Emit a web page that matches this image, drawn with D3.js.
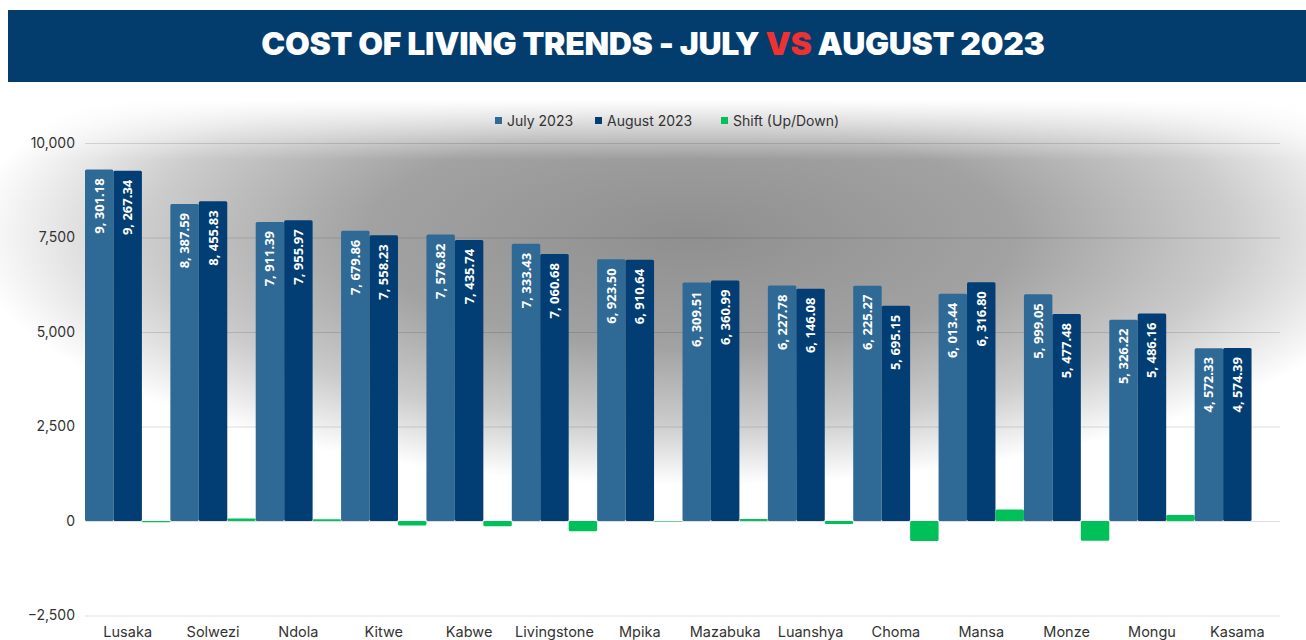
<!DOCTYPE html>
<html>
<head>
<meta charset="utf-8">
<script src="https://cdn.jsdelivr.net/npm/d3@7"></script>
<style>
  body { margin: 0; background: #fff; }
  svg { display: block; font-family: "Inter", "Open Sans", sans-serif; }
</style>
</head>
<body>
<div id="chart"></div>
<script>
var cities = ["Lusaka", "Solwezi", "Ndola", "Kitwe", "Kabwe", "Livingstone", "Mpika",
              "Mazabuka", "Luanshya", "Choma", "Mansa", "Monze", "Mongu", "Kasama"];
var july_2023 = [9301.18, 8387.59, 7911.39, 7679.86, 7576.82, 7333.43, 6923.50,
                 6309.51, 6227.78, 6225.27, 6013.44, 5999.05, 5326.22, 4572.33];
var august_2023 = [9267.34, 8455.83, 7955.97, 7558.23, 7435.74, 7060.68, 6910.64,
                   6360.99, 6146.08, 5695.15, 6316.80, 5477.48, 5486.16, 4574.39];
var shift = [-33.84, 68.24, 44.58, -121.63, -141.08, -272.75, -12.86,
             51.48, -81.70, -530.12, 303.36, -521.57, 159.94, 2.06];
var y_ticks = [-2500, 0, 2500, 5000, 7500, 10000];
var series_names = ["July 2023", "August 2023", "Shift (Up/Down)"];
var series_colors = ["#2f6a96", "#023e73", "#00c159"];

var W = 1306, H = 640;
var margin = {top: 143, right: 26, bottom: 24.5, left: 85};

var svg = d3.select("#chart").append("svg")
            .attr("width", W)
            .attr("height", H);

// background glow behind the plot
var defs = svg.append("defs");
var grad = defs.append("radialGradient")
               .attr("id", "glow")
               .attr("gradientUnits", "userSpaceOnUse")
               .attr("cx", 0).attr("cy", 0).attr("r", 1)
               .attr("gradientTransform", "translate(690,235) scale(720,250)");
grad.append("stop").attr("offset", 0).attr("stop-color", "#8f8f8f");
grad.append("stop").attr("offset", 0.45).attr("stop-color", "#a2a2a2");
grad.append("stop").attr("offset", 0.75).attr("stop-color", "#cbcbcb");
grad.append("stop").attr("offset", 1).attr("stop-color", "#ffffff");

var fade = defs.append("linearGradient")
               .attr("id", "fade")
               .attr("gradientUnits", "userSpaceOnUse")
               .attr("x1", 0).attr("y1", 100).attr("x2", 0).attr("y2", 160);
fade.append("stop").attr("offset", 0).attr("stop-color", "#fff").attr("stop-opacity", 1);
fade.append("stop").attr("offset", 1).attr("stop-color", "#fff").attr("stop-opacity", 0);

svg.append("rect")
   .attr("x", 0).attr("y", 82).attr("width", W).attr("height", H - 82)
   .attr("fill", "url(#glow)");
svg.append("rect")
   .attr("x", 0).attr("y", 82).attr("width", W).attr("height", 80)
   .attr("fill", "url(#fade)");

// header band
svg.append("rect")
   .attr("x", 8).attr("y", 10).attr("width", W - 8).attr("height", 72)
   .attr("fill", "#033d6e");

var title = svg.append("text")
               .attr("x", 653).attr("y", 55)
               .attr("text-anchor", "middle")
               .style("font-family", "Inter, sans-serif")
               .style("font-weight", 900)
               .style("font-size", "32px")
               .style("letter-spacing", "-0.3px")
               .attr("fill", "#ffffff");
title.append("tspan").text("COST OF LIVING TRENDS - JULY ");
title.append("tspan").attr("fill", "#ee3131").text("VS");
title.append("tspan").text(" AUGUST 2023");

// scales
var x0 = d3.scaleBand().domain(cities).range([margin.left, W - margin.right]).padding(0);
var x1 = d3.scaleBand().domain([0, 1, 2]).range([0, x0.bandwidth()]).padding(0);
var y = d3.scaleLinear().domain([-2500, 10000]).range([H - margin.bottom, margin.top]);

// gridlines
svg.append("g")
   .attr("class", "grid")
   .attr("transform", "translate(" + margin.left + ",0)")
   .call(d3.axisLeft(y).tickValues(y_ticks).tickSize(-(W - margin.left - margin.right)).tickFormat(""))
   .call(g => g.select(".domain").remove())
   .call(g => g.selectAll("line").attr("stroke", "#000").attr("stroke-opacity", 0.13).attr("stroke-width", 1));

// y axis labels
svg.append("g")
   .attr("transform", "translate(75,0)")
   .call(d3.axisLeft(y).tickValues(y_ticks).tickSize(0).tickPadding(0).tickFormat(d3.format(",")))
   .call(g => g.select(".domain").remove())
   .call(g => g.selectAll("text")
               .style("font-size", "14px")
               .style("font-family", "Inter, sans-serif")
               .attr("fill", "#333"));

// x axis labels
svg.append("g")
   .attr("transform", "translate(0," + y(-2500) + ")")
   .call(d3.axisBottom(x0).tickSize(0).tickPadding(11))
   .call(g => g.select(".domain").remove())
   .call(g => g.selectAll("text")
               .style("font-size", "14.5px")
               .style("font-family", "Inter, sans-serif")
               .attr("fill", "#333"));

// bars
var rows = cities.map((c, i) => ({city: c, vals: [july_2023[i], august_2023[i], shift[i]]}));

var groups = svg.append("g")
                .selectAll("g")
                .data(rows)
                .enter()
                .append("g")
                .attr("transform", d => "translate(" + x0(d.city) + ",0)");

groups.selectAll("rect")
      .data(d => d.vals.map((v, k) => ({k: k, v: v})))
      .enter()
      .append("rect")
      .attr("x", d => x1(d.k))
      .attr("y", d => y(Math.max(0, d.v)))
      .attr("width", x1.bandwidth())
      .attr("height", d => Math.abs(y(d.v) - y(0)))
      .attr("rx", 1.5)
      .attr("fill", d => series_colors[d.k]);

// value labels on july/august bars
var fmt = d3.format(",.2f");
groups.selectAll("text.val")
      .data(d => d.vals.slice(0, 2).map((v, k) => ({k: k, v: v})))
      .enter()
      .append("text")
      .attr("class", "val")
      .attr("transform", d => "translate(" + (x1(d.k) + x1.bandwidth() / 2 + 4.5) + "," + (y(d.v) + 9) + ") rotate(-90)")
      .attr("text-anchor", "end")
      .style("font-family", "'Open Sans', sans-serif")
      .style("font-weight", 700)
      .style("font-size", "13px")
      .attr("fill", "#ffffff")
      .text(d => fmt(d.v).replace(",", ", "));

// legend
var legend_x = [495, 595, 721];
var legend = svg.append("g")
                .selectAll("g")
                .data(series_names)
                .enter()
                .append("g")
                .attr("transform", (d, i) => "translate(" + legend_x[i] + ",121)");
legend.append("rect")
      .attr("x", 0).attr("y", -4).attr("width", 7).attr("height", 7)
      .attr("fill", (d, i) => series_colors[i]);
legend.append("text")
      .attr("x", 12).attr("y", 5)
      .style("font-size", "14px")
      .style("font-family", "Inter, sans-serif")
      .attr("fill", "#333")
      .text(d => d);
</script>
</body>
</html>
